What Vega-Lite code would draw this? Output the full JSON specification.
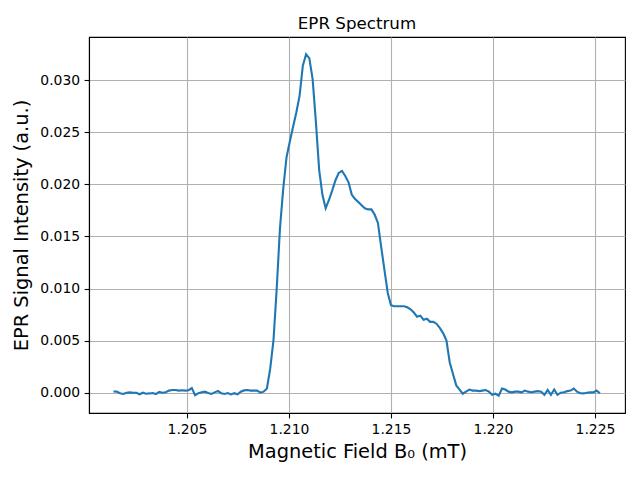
{
  "$schema": "https://vega.github.io/schema/vega-lite/v6.json",
  "width": 536,
  "height": 376,
  "autosize": {"type": "none"},
  "padding": {"left": 89, "top": 37, "right": 15, "bottom": 67},
  "background": "white",
  "title": {"text": "EPR Spectrum", "font": "DejaVu Sans", "fontSize": 16.7, "fontWeight": "normal", "color": "black", "offset": 4, "anchor": "middle"},
  "data": {"values": [
    {"b": 1.20140, "s": 0.00012}, {"b": 1.20156, "s": 0.0001}, {"b": 1.20172, "s": -0.00005}, {"b": 1.20188, "s": -0.00012},
    {"b": 1.20204, "s": 0.0}, {"b": 1.20220, "s": 0.00003}, {"b": 1.20236, "s": 0.0}, {"b": 1.20252, "s": 0.0},
    {"b": 1.20268, "s": -0.00015}, {"b": 1.20284, "s": 0.0}, {"b": 1.20300, "s": -0.0001}, {"b": 1.20316, "s": -0.00007},
    {"b": 1.20332, "s": -0.00003}, {"b": 1.20348, "s": -0.00013}, {"b": 1.20364, "s": 0.00007}, {"b": 1.20380, "s": 0.0},
    {"b": 1.20396, "s": 0.00005}, {"b": 1.20412, "s": 0.0002}, {"b": 1.20428, "s": 0.00026}, {"b": 1.20444, "s": 0.00026},
    {"b": 1.20460, "s": 0.0002}, {"b": 1.20476, "s": 0.00024}, {"b": 1.20492, "s": 0.0002}, {"b": 1.20508, "s": 0.00024},
    {"b": 1.20524, "s": 0.00045}, {"b": 1.20540, "s": -0.00024}, {"b": 1.20556, "s": -0.00005}, {"b": 1.20572, "s": 0.00005},
    {"b": 1.20588, "s": 0.0001}, {"b": 1.20604, "s": -0.00003}, {"b": 1.20620, "s": -0.00012}, {"b": 1.20636, "s": 0.00003},
    {"b": 1.20652, "s": 0.00016}, {"b": 1.20668, "s": -0.00005}, {"b": 1.20684, "s": -0.00012}, {"b": 1.20700, "s": -0.00003},
    {"b": 1.20716, "s": -0.00017}, {"b": 1.20732, "s": -0.00005}, {"b": 1.20748, "s": -0.00015}, {"b": 1.20764, "s": 0.0001},
    {"b": 1.20780, "s": 0.00022}, {"b": 1.20796, "s": 0.00026}, {"b": 1.20812, "s": 0.0002}, {"b": 1.20828, "s": 0.0002},
    {"b": 1.20844, "s": 0.0002}, {"b": 1.20860, "s": 0.0}, {"b": 1.20876, "s": 0.0001}, {"b": 1.20892, "s": 0.0004},
    {"b": 1.20908, "s": 0.0023}, {"b": 1.20924, "s": 0.0050}, {"b": 1.20940, "s": 0.0100}, {"b": 1.20956, "s": 0.0158},
    {"b": 1.20972, "s": 0.0196}, {"b": 1.20988, "s": 0.0226}, {"b": 1.21004, "s": 0.0241}, {"b": 1.21020, "s": 0.0255},
    {"b": 1.21036, "s": 0.0269}, {"b": 1.21052, "s": 0.0285}, {"b": 1.21068, "s": 0.0314}, {"b": 1.21084, "s": 0.0325},
    {"b": 1.21100, "s": 0.0321}, {"b": 1.21116, "s": 0.0301}, {"b": 1.21132, "s": 0.0260}, {"b": 1.21148, "s": 0.0214},
    {"b": 1.21164, "s": 0.0190}, {"b": 1.21180, "s": 0.0177}, {"b": 1.21196, "s": 0.0185}, {"b": 1.21212, "s": 0.0194},
    {"b": 1.21228, "s": 0.0204}, {"b": 1.21244, "s": 0.0211}, {"b": 1.21260, "s": 0.0213}, {"b": 1.21276, "s": 0.0208},
    {"b": 1.21292, "s": 0.0202}, {"b": 1.21308, "s": 0.0190}, {"b": 1.21324, "s": 0.0186}, {"b": 1.21340, "s": 0.0183},
    {"b": 1.21356, "s": 0.0180}, {"b": 1.21372, "s": 0.0177}, {"b": 1.21388, "s": 0.0176}, {"b": 1.21404, "s": 0.0176},
    {"b": 1.21420, "s": 0.0171}, {"b": 1.21436, "s": 0.0163}, {"b": 1.21452, "s": 0.0140}, {"b": 1.21468, "s": 0.0118},
    {"b": 1.21484, "s": 0.0096}, {"b": 1.21500, "s": 0.0084}, {"b": 1.21516, "s": 0.0083}, {"b": 1.21532, "s": 0.0083},
    {"b": 1.21548, "s": 0.0083}, {"b": 1.21564, "s": 0.0083}, {"b": 1.21580, "s": 0.0082}, {"b": 1.21596, "s": 0.0080},
    {"b": 1.21612, "s": 0.0077}, {"b": 1.21628, "s": 0.0073}, {"b": 1.21644, "s": 0.0074}, {"b": 1.21660, "s": 0.0070},
    {"b": 1.21676, "s": 0.0071}, {"b": 1.21692, "s": 0.0068}, {"b": 1.21708, "s": 0.0068}, {"b": 1.21724, "s": 0.0066},
    {"b": 1.21740, "s": 0.0062}, {"b": 1.21756, "s": 0.0057}, {"b": 1.21772, "s": 0.0050}, {"b": 1.21788, "s": 0.0029},
    {"b": 1.21804, "s": 0.0018}, {"b": 1.21820, "s": 0.0007}, {"b": 1.21836, "s": 0.0003}, {"b": 1.21852, "s": -0.0001},
    {"b": 1.21868, "s": 0.0001}, {"b": 1.21884, "s": 0.0003}, {"b": 1.21900, "s": 0.0002}, {"b": 1.21916, "s": 0.0002},
    {"b": 1.21932, "s": 0.00015}, {"b": 1.21948, "s": 0.0002}, {"b": 1.21964, "s": 0.00025}, {"b": 1.21980, "s": 0.0001},
    {"b": 1.21996, "s": -0.0002}, {"b": 1.22012, "s": -0.0001}, {"b": 1.22028, "s": -0.0003}, {"b": 1.22044, "s": 0.0004},
    {"b": 1.22060, "s": 0.0003}, {"b": 1.22076, "s": 0.0001}, {"b": 1.22092, "s": 0.00003}, {"b": 1.22108, "s": 0.0001},
    {"b": 1.22124, "s": 0.0001}, {"b": 1.22140, "s": 0.00003}, {"b": 1.22156, "s": 0.0002}, {"b": 1.22172, "s": 0.0001},
    {"b": 1.22188, "s": 0.00005}, {"b": 1.22204, "s": 0.0001}, {"b": 1.22220, "s": 0.00015}, {"b": 1.22236, "s": 0.0001},
    {"b": 1.22252, "s": -0.0002}, {"b": 1.22268, "s": 0.00026}, {"b": 1.22284, "s": -0.0002}, {"b": 1.22300, "s": 0.0003},
    {"b": 1.22316, "s": -0.0002}, {"b": 1.22332, "s": 0.0}, {"b": 1.22348, "s": 0.00005}, {"b": 1.22364, "s": 0.00015},
    {"b": 1.22380, "s": 0.0002}, {"b": 1.22396, "s": 0.0004}, {"b": 1.22412, "s": 0.0001}, {"b": 1.22428, "s": -0.00005},
    {"b": 1.22444, "s": -0.00007}, {"b": 1.22460, "s": 0.0}, {"b": 1.22476, "s": 0.00003}, {"b": 1.22492, "s": 0.00003},
    {"b": 1.22508, "s": 0.0002}, {"b": 1.22524, "s": -0.00005}
  ]},
  "mark": {"type": "line", "color": "#1f77b4", "strokeWidth": 2.1, "clip": true},
  "encoding": {
    "x": {
      "field": "b", "type": "quantitative",
      "scale": {"domain": [1.2002, 1.22647], "nice": false, "zero": false},
      "axis": {"values": [1.205, 1.21, 1.215, 1.22, 1.225], "format": ".3f", "title": "Magnetic Field B₀ (mT)", "titlePadding": 6}
    },
    "y": {
      "field": "s", "type": "quantitative",
      "scale": {"domain": [-0.00195, 0.03415], "nice": false, "zero": false},
      "axis": {"values": [0, 0.005, 0.01, 0.015, 0.02, 0.025, 0.03], "format": ".3f", "title": "EPR Signal Intensity (a.u.)", "titlePadding": 8}
    }
  },
  "config": {
    "view": {"stroke": "black", "strokeWidth": 1.1},
    "axis": {
      "domainColor": "black", "domainWidth": 1.1,
      "tickColor": "black", "tickWidth": 1.1, "tickSize": 4.9,
      "labelFont": "DejaVu Sans", "labelFontSize": 13.9, "labelColor": "black", "labelPadding": 4.5,
      "grid": true, "gridColor": "#b0b0b0", "gridWidth": 1.1,
      "titleFont": "DejaVu Sans", "titleFontSize": 19.4, "titleFontWeight": "normal", "titleColor": "black"
    }
  }
}
